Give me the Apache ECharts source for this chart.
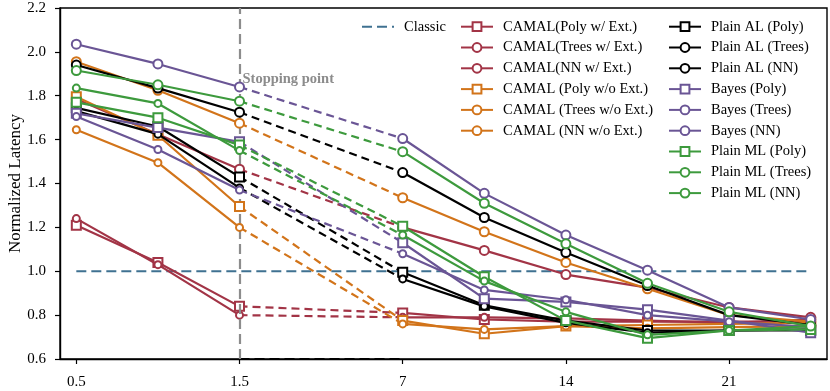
<!DOCTYPE html>
<html>
<head>
<meta charset="utf-8">
<style>
  html, body { margin: 0; padding: 0; background: #fff; }
  #chart { width: 830px; height: 391px; }
</style>
<script src="https://cdn.jsdelivr.net/npm/echarts@6/dist/echarts.min.js"></script>
</head>
<body>
<div id="chart"></div>
<script>
// x positions of the measured points (slot 3 is the gap between 1.5 and 7)
const xPos = [0, 1, 2, 4, 5, 6, 7, 8, 9]
const tickPos = [0, 2, 4, 6, 8]
const tickLabels = ['0.5', '1.5', '7', '14', '21']

const classicX = [0, 9]
const classicY = [1.0, 1.0]
const floorX = [2, 4]
const floorY = [0.6, 0.6]

const camalPolyExt = [1.21, 1.04, 0.84, 0.81, 0.78, 0.77, 0.77, 0.77, 0.77]
const camalTreesExt = [1.24, 1.03, 0.80, 0.79, 0.79, 0.785, 0.775, 0.765, 0.78]
const camalNNExt = [1.785, 1.625, 1.465, 1.20, 1.095, 0.985, 0.925, 0.835, 0.79]
const camalPolyNo = [1.795, 1.62, 1.295, 0.775, 0.715, 0.75, 0.755, 0.76, 0.765]
const camalTreesNo = [1.645, 1.495, 1.20, 0.76, 0.735, 0.75, 0.74, 0.745, 0.75]
const camalNNNo = [1.955, 1.825, 1.675, 1.335, 1.18, 1.04, 0.92, 0.80, 0.77]
const alPoly = [1.745, 1.66, 1.43, 0.995, 0.845, 0.775, 0.73, 0.73, 0.73]
const alTrees = [1.73, 1.625, 1.38, 0.965, 0.84, 0.765, 0.72, 0.73, 0.735]
const alNN = [1.94, 1.835, 1.725, 1.45, 1.245, 1.085, 0.935, 0.80, 0.755]
const bayesPoly = [1.72, 1.655, 1.59, 1.13, 0.875, 0.86, 0.825, 0.775, 0.72]
const bayesTrees = [1.705, 1.555, 1.37, 1.08, 0.915, 0.87, 0.80, 0.77, 0.745]
const bayesNN = [2.035, 1.945, 1.84, 1.605, 1.355, 1.165, 1.005, 0.835, 0.78]
const mlPoly = [1.77, 1.70, 1.575, 1.205, 0.975, 0.775, 0.695, 0.73, 0.735]
const mlTrees = [1.835, 1.765, 1.55, 1.165, 0.955, 0.815, 0.71, 0.73, 0.75]
const mlNN = [1.915, 1.85, 1.775, 1.545, 1.31, 1.125, 0.945, 0.815, 0.75]

const RED = '#a23446'
const ORANGE = '#d2741a'
const BLACK = '#000000'
const PURPLE = '#6a5595'
const GREEN = '#3d9a3d'
const BLUE = '#3f7191'
const FONT = '"Liberation Serif", "DejaVu Serif", serif'

const methods = [
    { name: 'CAMAL(Poly w/ Ext.)', data: camalPolyExt, color: RED, symbol: 'emptyRect', size: 9 },
    { name: 'CAMAL(Trees w/ Ext.)', data: camalTreesExt, color: RED, symbol: 'emptyCircle', size: 7 },
    { name: 'CAMAL(NN w/ Ext.)', data: camalNNExt, color: RED, symbol: 'emptyCircle', size: 9 },
    { name: 'CAMAL (Poly w/o Ext.)', data: camalPolyNo, color: ORANGE, symbol: 'emptyRect', size: 9 },
    { name: 'CAMAL (Trees w/o Ext.)', data: camalTreesNo, color: ORANGE, symbol: 'emptyCircle', size: 7 },
    { name: 'CAMAL (NN w/o Ext.)', data: camalNNNo, color: ORANGE, symbol: 'emptyCircle', size: 9 },
    { name: 'Plain AL (Poly)', data: alPoly, color: BLACK, symbol: 'emptyRect', size: 9 },
    { name: 'Plain AL (Trees)', data: alTrees, color: BLACK, symbol: 'emptyCircle', size: 7 },
    { name: 'Plain AL (NN)', data: alNN, color: BLACK, symbol: 'emptyCircle', size: 9 },
    { name: 'Bayes (Poly)', data: bayesPoly, color: PURPLE, symbol: 'emptyRect', size: 9 },
    { name: 'Bayes (Trees)', data: bayesTrees, color: PURPLE, symbol: 'emptyCircle', size: 7 },
    { name: 'Bayes (NN)', data: bayesNN, color: PURPLE, symbol: 'emptyCircle', size: 9 },
    { name: 'Plain ML (Poly)', data: mlPoly, color: GREEN, symbol: 'emptyRect', size: 9 },
    { name: 'Plain ML (Trees)', data: mlTrees, color: GREEN, symbol: 'emptyCircle', size: 7 },
    { name: 'Plain ML (NN)', data: mlNN, color: GREEN, symbol: 'emptyCircle', size: 9 },
]

const series = []

series.push({
    name: 'Classic',
    type: 'line',
    data: classicX.map((x, i) => [x, classicY[i]]),
    showSymbol: false,
    symbol: 'none',
    lineStyle: { color: BLUE, width: 2, type: [10, 5] },
    itemStyle: { color: BLUE },
    z: 1,
    markLine: {
        silent: true,
        symbol: 'none',
        label: { show: false },
        lineStyle: { color: '#8c8c8c', width: 2.2, type: [10, 5] },
        data: [{ xAxis: 2 }],
    },
})

series.push({
    type: 'line',
    data: floorX.map((x, i) => [x, floorY[i]]),
    showSymbol: false,
    symbol: 'none',
    lineStyle: { color: BLACK, width: 2, type: [10, 5] },
    z: 2,
})

methods.forEach((m, k) => {
    // solid pieces with a break between 1.5 and 7
    const solid = []
    m.data.forEach((v, i) => {
        if (xPos[i] === 4) solid.push([3, '-'])
        solid.push([xPos[i], v])
    })
    series.push({
        type: 'line',
        data: [[xPos[2], m.data[2]], [xPos[3], m.data[3]]],
        showSymbol: false,
        symbol: 'none',
        lineStyle: { color: m.color, width: 2.2, type: [8, 5] },
        z: 3 + k,
    })
    series.push({
        name: m.name,
        type: 'line',
        data: solid,
        symbol: m.symbol,
        symbolSize: m.size,
        connectNulls: false,
        lineStyle: { color: m.color, width: 2.2 },
        itemStyle: { color: m.color, borderColor: m.color, borderWidth: 2 },
        z: 3 + k,
    })
})

const legendText = { fontFamily: FONT, fontSize: 14.5, lineHeight: 15, color: '#000', padding: [0, 0, 0, 5] }
const legendBase = {
    orient: 'vertical',
    itemWidth: 32,
    itemHeight: 11,
    itemGap: 5.8,
    top: 14.2,
    textStyle: legendText,
    selectedMode: false,
}

const chart = echarts.init(document.getElementById('chart'))
chart.setOption({
    animation: false,
    backgroundColor: '#fff',
    grid: {
        left: 60,
        right: 3,
        top: 8,
        bottom: 32,
        outerBoundsMode: 'none',
        containLabel: false,
        show: true,
        borderColor: '#000',
        borderWidth: 1.4,
    },
    legend: [
        Object.assign({}, legendBase, { left: 356, data: [{ name: 'Classic', itemStyle: { opacity: 0 } }] }),
        Object.assign({}, legendBase, { left: 455, data: methods.slice(0, 6).map(m => m.name) }),
        Object.assign({}, legendBase, { left: 663, data: methods.slice(6).map(m => m.name) }),
    ],
    xAxis: {
        type: 'value',
        min: -0.2,
        max: 9.2,
        splitLine: { show: false },
        axisLine: { show: true, onZero: false, lineStyle: { color: '#000', width: 1.4 } },
        axisTick: { show: true, customValues: tickPos, length: 5, lineStyle: { color: '#000', width: 1.2 } },
        axisLabel: {
            customValues: tickPos,
            formatter: v => tickLabels[tickPos.indexOf(v)],
            fontFamily: FONT,
            fontSize: 15,
            color: '#000',
            margin: 16,
        },
    },
    yAxis: {
        type: 'value',
        min: 0.6,
        max: 2.2,
        interval: 0.2,
        name: 'Normalized Latency',
        nameLocation: 'middle',
        nameGap: 36,
        nameMoveOverlap: false,
        nameTextStyle: { fontFamily: FONT, fontSize: 17, color: '#000' },
        splitLine: { show: false },
        axisLine: { show: true, onZero: false, lineStyle: { color: '#000', width: 1.4 } },
        axisTick: { show: true, length: 5, lineStyle: { color: '#000', width: 1.2 } },
        axisLabel: {
            formatter: v => v.toFixed(1),
            fontFamily: FONT,
            fontSize: 15,
            color: '#000',
            margin: 14,
        },
    },
    series: series,
})

const stopPt = chart.convertToPixel({ xAxisIndex: 0, yAxisIndex: 0 }, [2, 1.873])
chart.setOption({
    graphic: [{
        type: 'text',
        x: stopPt[0] + 3,
        y: stopPt[1],
        style: {
            text: 'Stopping point',
            fontFamily: FONT,
            fontSize: 14.5,
            fontWeight: 'bold',
            fill: '#8c8c8c',
            verticalAlign: 'middle',
        },
    }],
})
</script>
</body>
</html>
